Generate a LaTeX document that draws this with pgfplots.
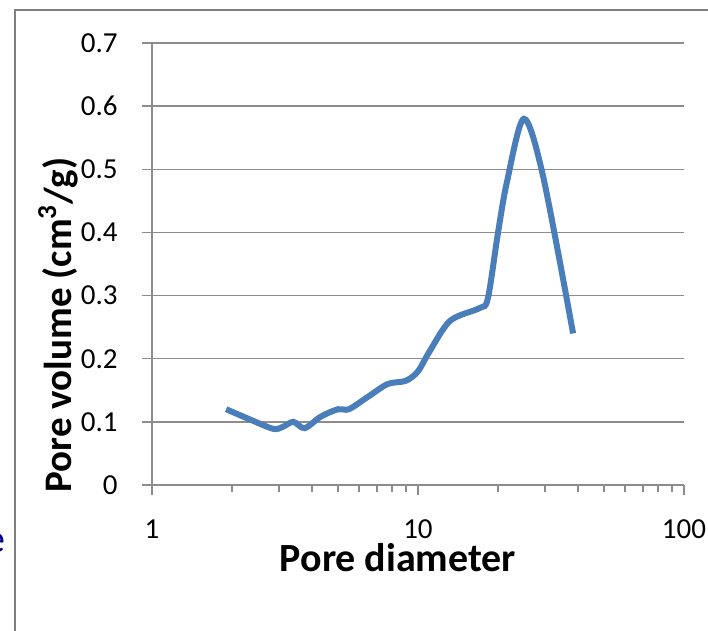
\documentclass[border=0pt]{standalone}
\usepackage{pgfplots}
\pgfplotsset{compat=1.18}
\usepackage{fontspec}
\setmainfont{Carlito}
\definecolor{linec}{HTML}{4A7EBB}
\definecolor{gridc}{HTML}{8C8C8C}
\definecolor{framec}{HTML}{7F7F7F}
\begin{document}
\begin{tikzpicture}
\useasboundingbox (0,0) rectangle (354pt,315.5pt);
\draw[framec, line width=1.2pt] (7.5pt,-2pt) -- (7.5pt,310.5pt) -- (356pt,310.5pt);
\node[text=blue!55!black, font=\fontsize{20}{24}\selectfont, anchor=east, inner sep=0pt] at (2.8pt,44pt) {e};
\begin{axis}[
  at={(76pt,73pt)}, anchor=south west,
  scale only axis, width=266pt, height=221pt,
  xmode=log, xmin=1, xmax=100, ymin=0, ymax=0.7,
  xtick={1,10,100}, xticklabels={1,10,100},
  minor xtick={2,3,4,5,6,7,8,9,20,30,40,50,60,70,80,90},
  ytick={0,0.1,0.2,0.3,0.4,0.5,0.6,0.7},
  yticklabel style={/pgf/number format/fixed, /pgf/number format/precision=1},
  /pgf/number format/assume math mode=true,
  ticklabel style={font=\fontsize{14.5}{17}\selectfont, text=black},
  x tick label style={anchor=north, yshift=-9pt},
  y tick label style={anchor=east, xshift=-8.7pt},
  axis lines*=left,
  axis line style={gridc, line width=0.75pt, -},
  tick style={gridc, line width=0.75pt},
  tick align=outside,
  major tick length=5pt, minor tick length=3.5pt,
  ymajorgrids, xmajorgrids=false,
  major grid style={gridc, line width=0.75pt},
  clip=false,
]
\addplot[linec, line width=3pt, smooth, tension=0.5] coordinates {
(1.9,0.120) (2.3,0.105) (2.85,0.089) (3.1,0.092) (3.4,0.100) (3.75,0.090)
(4.3,0.108) (5.0,0.120) (5.5,0.120) (6.5,0.140) (7.7,0.160) (9.0,0.165)
(10,0.180) (11,0.210) (13.2,0.260) (17,0.280) (18.3,0.295) (20,0.400)
(21.6,0.480) (25,0.580) (29.5,0.490) (38.3,0.240)
};
\end{axis}
\node[rotate=90, font=\bfseries\fontsize{19.5}{23}\selectfont] at (29pt,153pt) {Pore volume (cm\textsuperscript{3}/g)};
\node[font=\bfseries\fontsize{20}{24}\selectfont] at (199pt,36.5pt) {Pore diameter};
\end{tikzpicture}
\end{document}
